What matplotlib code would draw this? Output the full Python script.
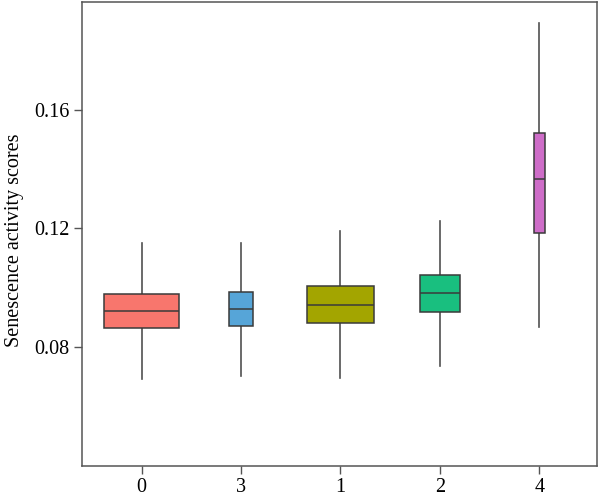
import matplotlib
matplotlib.use("Agg")
import matplotlib.pyplot as plt

# cluster order on the x axis
clusters = ["0", "3", "1", "2", "4"]
whisk_lo = [0.0690, 0.0701, 0.0693, 0.0735, 0.0865]
q1 = [0.0862, 0.0870, 0.0878, 0.0917, 0.1182]
med = [0.0920, 0.0926, 0.0941, 0.0982, 0.1365]
q3 = [0.0977, 0.0984, 0.1003, 0.1041, 0.1521]
whisk_hi = [0.1148, 0.1148, 0.1191, 0.1225, 0.1891]
box_widths = [0.755, 0.239, 0.675, 0.396, 0.114]
colors = ["#F8766D", "#56A5D8", "#A3A500", "#19BF7F", "#CE6DC8"]

plt.rcParams["font.family"] = ["Liberation Serif", "DejaVu Serif"]

fig = plt.figure(figsize=(6.0, 5.03), dpi=100)
ax = fig.add_axes([82 / 600, 1 - 466 / 503, (597 - 82) / 600, (466 - 2) / 503])

stats = []
for i in range(len(clusters)):
    stats.append({"label": clusters[i], "whislo": whisk_lo[i], "q1": q1[i],
                  "med": med[i], "q3": q3[i], "whishi": whisk_hi[i], "fliers": []})

bp = ax.bxp(stats, positions=range(1, len(clusters) + 1), widths=box_widths,
            patch_artist=True, showcaps=False, showfliers=False,
            boxprops=dict(edgecolor="#3a3a3a", linewidth=1.1),
            medianprops=dict(color="#3a3a3a", linewidth=1.1),
            whiskerprops=dict(color="#505050", linewidth=1.2))
for patch, c in zip(bp["boxes"], colors):
    patch.set_facecolor(c)
    patch.set_zorder(3)
for m in bp["medians"]:
    m.set_zorder(4)

ax.set_xlim(0.4, 5.58)
ax.set_ylim(0.0397, 0.1963)
ax.set_yticks([0.08, 0.12, 0.16])
ax.set_yticklabels(["0.08", "0.12", "0.16"])
ax.set_xticklabels(clusters)
ax.set_ylabel("Senescence activity scores", fontsize=14.5)
ax.yaxis.set_label_coords(-0.112, 0.487)

for s in ax.spines.values():
    s.set_color("#555555")
    s.set_linewidth(1.1)
ax.tick_params(axis="both", labelsize=14.5, length=6, width=1, color="#555555", pad=3)

fig.savefig("out.png", dpi=100, facecolor="white")
